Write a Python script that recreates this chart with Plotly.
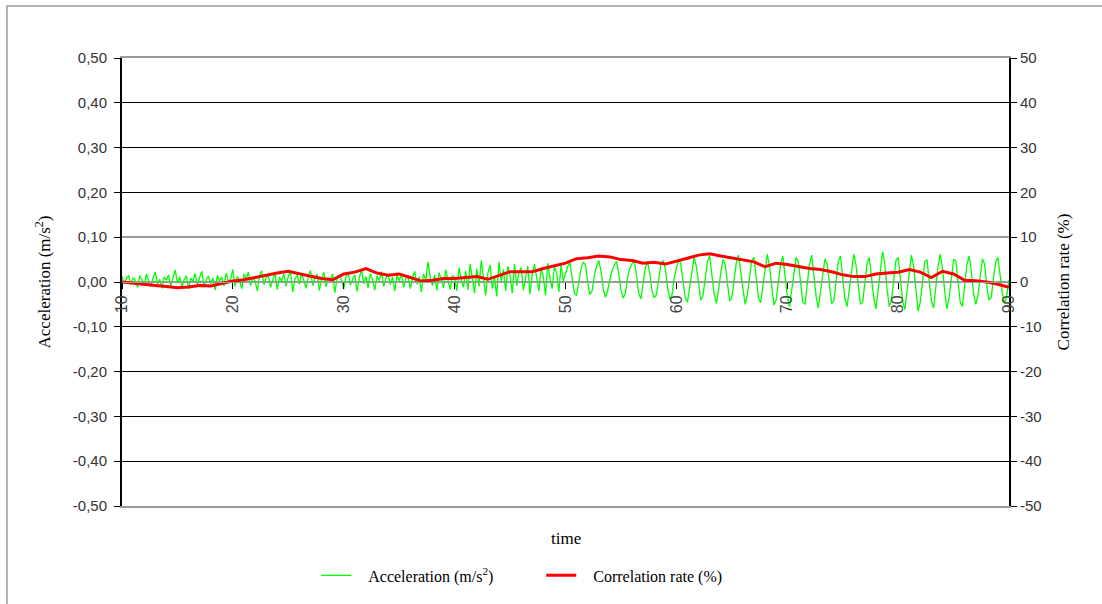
import plotly.graph_objects as go

# ---------------- data ----------------
acceleration = [
    # 10 - 20
    0.012, -0.004, 0.008, 0.015, -0.006, 0.010, 0.002, -0.012, 0.014, 0.005,
    -0.008, 0.018, 0.003, -0.010, 0.009, 0.022, -0.005, 0.006, -0.014, 0.011,
    0.004, 0.016, -0.009, 0.007, 0.027, -0.003, 0.012, -0.011, 0.005, 0.014,
    -0.016, 0.008, 0.002, 0.019, -0.007, 0.010, 0.024, -0.012, 0.006, 0.013,
    -0.004, 0.009, -0.018, 0.015, 0.003, 0.011, -0.009, 0.020, 0.001, 0.007,
    # 20 - 30
    0.028, -0.010, 0.012, 0.004, -0.015, 0.018, 0.006, 0.022, -0.008, 0.010,
    0.003, -0.020, 0.014, 0.025, -0.006, 0.009, 0.016, -0.012, 0.005, 0.021,
    -0.017, 0.011, 0.002, 0.019, -0.009, 0.013, 0.024, -0.022, 0.007, 0.015,
    -0.005, 0.020, 0.003, -0.014, 0.012, 0.026, -0.008, 0.009, 0.017, -0.019,
    0.006, 0.022, -0.011, 0.010, 0.003, 0.018, -0.024, 0.008, 0.014, 0.004,
    # 30 - 40
    -0.016, 0.011, 0.021, -0.007, 0.006, 0.016, -0.021, 0.009, 0.028, -0.004,
    0.012, -0.013, 0.019, 0.005, -0.018, 0.014, 0.003, 0.023, -0.010, 0.008,
    0.017, -0.006, 0.011, -0.020, 0.015, 0.002, 0.020, -0.012, 0.007, 0.013,
    -0.015, 0.009, 0.024, -0.005, 0.012, -0.022, 0.018, 0.004, 0.045, 0.010,
    -0.008, 0.016, -0.019, 0.021, 0.006, -0.013, 0.027, 0.003, -0.017, 0.014,
    # 40 - 50
    0.010, -0.020, 0.032, 0.005, -0.012, 0.025, -0.018, 0.040, 0.008, -0.025,
    0.030, -0.010, 0.048, 0.012, -0.030, 0.020, 0.038, -0.015, 0.010, -0.032,
    0.045, 0.002, 0.028, -0.020, 0.035, 0.015, -0.025, 0.040, -0.008, 0.022,
    0.032, -0.018, 0.012, 0.036, -0.028, 0.018, 0.040, 0.005, -0.020, 0.030,
    0.012, -0.030, 0.042, 0.008, -0.015, 0.034, 0.020, -0.022, 0.038, 0.002,
    # 50 - 60
    0.020, 0.035, 0.042, 0.010, -0.025, -0.030, 0.005, 0.030, 0.045, 0.038,
    0.000, -0.028, -0.020, 0.015, 0.035, 0.048, 0.025, -0.015, -0.034, -0.020,
    0.005, 0.025, 0.038, 0.046, 0.020, -0.018, -0.036, -0.025, 0.010, 0.030,
    0.040, 0.050, 0.015, -0.025, -0.038, 0.000, 0.032, 0.045, 0.020, -0.020,
    -0.035, -0.028, 0.010, 0.038, 0.048, 0.030, -0.012, -0.038, -0.030, 0.008,
    # 60 - 90
    0.030, 0.052, 0.040, 0.000, -0.035, -0.045, -0.010,
    0.028, 0.055, 0.035, -0.008, -0.040, -0.030, 0.012,
    0.045, 0.058, 0.020, -0.025, -0.048, -0.020, 0.020,
    0.050, 0.040, -0.005, -0.042, -0.035, 0.008,
    0.042, 0.060, 0.025, -0.020, -0.050, -0.028, 0.015,
    0.048, 0.055, 0.010, -0.035, -0.046, -0.010,
    0.030, 0.062, 0.035, -0.015, -0.052, -0.040, 0.005,
    0.040, 0.058, 0.020, -0.030, -0.055, -0.015,
    0.028, 0.055, 0.045, -0.005, -0.045, -0.050, 0.000,
    0.038, 0.060, 0.018, -0.032, -0.058, -0.020,
    0.025, 0.052, 0.040, -0.010, -0.048, -0.042, 0.008,
    0.045, 0.058, 0.012, -0.038, -0.055, -0.015,
    0.030, 0.062, 0.038, -0.012, -0.050, -0.045, 0.005,
    0.042, 0.055, 0.015, -0.035, -0.060, -0.022,
    0.025, 0.068, 0.040, -0.015, -0.055, -0.040, 0.010,
    0.048, 0.055, 0.008, -0.040, -0.062, -0.018,
    0.030, 0.060, 0.035, -0.018, -0.065, -0.045, 0.000,
    0.045, 0.050, 0.005, -0.042, -0.058, -0.012,
    0.035, 0.062, 0.030, -0.020, -0.060, -0.035, 0.010,
    0.050, 0.048, 0.000, -0.045, -0.055, -0.010,
    0.038, 0.058, 0.025, -0.025, -0.050, -0.030, 0.015,
    0.052, 0.040, -0.010, -0.040, -0.035, 0.010, 0.045, 0.055, 0.020, -0.025,
    -0.048, -0.030, 0.005,
]

corr_time = list(range(10, 91))
correlation = [
    0.0, -0.3, -0.6, -0.8, -1.0, -1.3, -1.1, -0.8, -0.9, -0.4,
    0.2, 0.5, 1.0, 1.6, 2.0, 2.4, 1.8, 1.3, 0.8, 0.5,
    1.8, 2.2, 3.0, 2.0, 1.5, 1.8, 1.0, 0.2, 0.4, 0.8,
    0.8, 1.0, 1.2, 0.6, 1.5, 2.3, 2.3, 2.3, 3.0, 3.6,
    4.2, 5.2, 5.4, 5.8, 5.6, 5.0, 4.8, 4.2, 4.4, 4.0,
    4.6, 5.3, 6.0, 6.3, 5.8, 5.4, 5.0, 4.5, 3.4, 4.2,
    3.9, 3.4, 3.0, 2.8, 2.3, 1.6, 1.2, 1.2, 1.8, 2.0,
    2.2, 2.8, 2.2, 1.0, 2.4, 1.8, 0.4, 0.3, 0.0, -0.5,
    -1.2,
]

t_start, t_end = 10, 90
n = len(acceleration)
acc_time = [t_start + (t_end - t_start) * i / (n - 1) for i in range(n)]

x_ticks = [10, 20, 30, 40, 50, 60, 70, 80, 90]
left_ticks = [0.5, 0.4, 0.3, 0.2, 0.1, 0.0, -0.1, -0.2, -0.3, -0.4, -0.5]
left_labels = ["0,50", "0,40", "0,30", "0,20", "0,10", "0,00",
               "-0,10", "-0,20", "-0,30", "-0,40", "-0,50"]
right_ticks = [50, 40, 30, 20, 10, 0, -10, -20, -30, -40, -50]
right_labels = ["50", "40", "30", "20", "10", "0",
                "-10", "-20", "-30", "-40", "-50"]
black_grid = [0.4, 0.3, 0.2, -0.1, -0.2, -0.3, -0.4]
gray_grid = [0.1, 0.0]

SANS = "Liberation Sans, Arial, sans-serif"
SERIF = "Liberation Serif, Times New Roman, serif"
PAD = "\u00a0" * 3

fig = go.Figure()
fig.add_trace(go.Scatter(
    x=acc_time, y=acceleration, mode="lines",
    name=PAD + "Acceleration (m/s<sup>2</sup>)",
    line=dict(color="#00ff00", width=1.3),
    xaxis="x", yaxis="y",
))
fig.add_trace(go.Scatter(
    x=corr_time, y=correlation, mode="lines",
    name=PAD + "Correlation rate (%)",
    line=dict(color="#ff0000", width=3),
    xaxis="x", yaxis="y2",
))

fig.update_layout(
    width=1102, height=604,
    margin=dict(l=122, r=93, t=58, b=98),
    paper_bgcolor="white", plot_bgcolor="white",
    separators=",.",
    showlegend=True,
    legend=dict(
        orientation="h", x=0.219, xanchor="left", y=-0.155, yanchor="middle",
        font=dict(family=SERIF, size=16, color="black"),
        entrywidth=180, itemwidth=30, bgcolor="rgba(0,0,0,0)",
    ),
    xaxis=dict(
        range=[t_start, t_end], anchor="free", position=0.5,
        tickvals=x_ticks, tickangle=-90,
        ticks="outside", ticklen=6, tickcolor="black",
        showline=True, linecolor="#999999", linewidth=1,
        showgrid=False, zeroline=False,
        tickfont=dict(family=SANS, size=16, color="#444444"),
    ),
    xaxis2=dict(
        range=[t_start, t_end], overlaying="x", anchor="y",
        showline=True, mirror=True, linecolor="#9a9a9a", linewidth=1.5,
        showticklabels=False, ticks="", showgrid=False, zeroline=False,
    ),
    yaxis=dict(
        range=[-0.5, 0.5], tickvals=left_ticks, ticktext=left_labels,
        ticks="outside", ticklen=6, tickcolor="black",
        showline=True, linecolor="black", linewidth=2,
        showgrid=False, zeroline=False, ticklabelstandoff=4,
        tickfont=dict(family=SANS, size=15, color="#333333"),
        title=dict(text="Acceleration (m/s<sup>2</sup>)", standoff=18,
                   font=dict(family=SERIF, size=17, color="black")),
    ),
    yaxis2=dict(
        range=[-50, 50], tickvals=right_ticks, ticktext=right_labels,
        overlaying="y", side="right",
        ticks="outside", ticklen=6, tickcolor="black",
        showline=True, linecolor="black", linewidth=2,
        showgrid=False, zeroline=False,
        tickfont=dict(family=SANS, size=15, color="#333333"),
        title=dict(text="Correlation rate (%)", standoff=16,
                   font=dict(family=SERIF, size=17, color="black")),
    ),
    yaxis3=dict(
        range=[-0.5, 0.5], overlaying="y", tickvals=black_grid,
        showticklabels=False, showgrid=True, gridcolor="black", gridwidth=1,
        zeroline=False, showline=False,
    ),
    yaxis4=dict(
        range=[-0.5, 0.5], overlaying="y", tickvals=gray_grid,
        showticklabels=False, showgrid=True, gridcolor="#9a9a9a", gridwidth=1.5,
        zeroline=False, showline=False,
    ),
    annotations=[
        dict(text="time", xref="paper", yref="paper", x=0.5, y=-0.072,
             xanchor="center", yanchor="middle", showarrow=False,
             font=dict(family=SERIF, size=17, color="black")),
    ],
    shapes=[
        dict(type="rect", xref="paper", yref="paper",
             x0=-0.1297, y0=-0.25, x1=1.15, y1=1.116,
             line=dict(color="#9a9a9a", width=1.5), fillcolor="rgba(0,0,0,0)",
             layer="below"),
    ],
)

# dummy traces to activate the grid-only axes
fig.add_trace(go.Scatter(x=[], y=[], xaxis="x2", yaxis="y3", showlegend=False, hoverinfo="skip"))
fig.add_trace(go.Scatter(x=[], y=[], xaxis="x2", yaxis="y4", showlegend=False, hoverinfo="skip"))

fig.write_html("out.html")
